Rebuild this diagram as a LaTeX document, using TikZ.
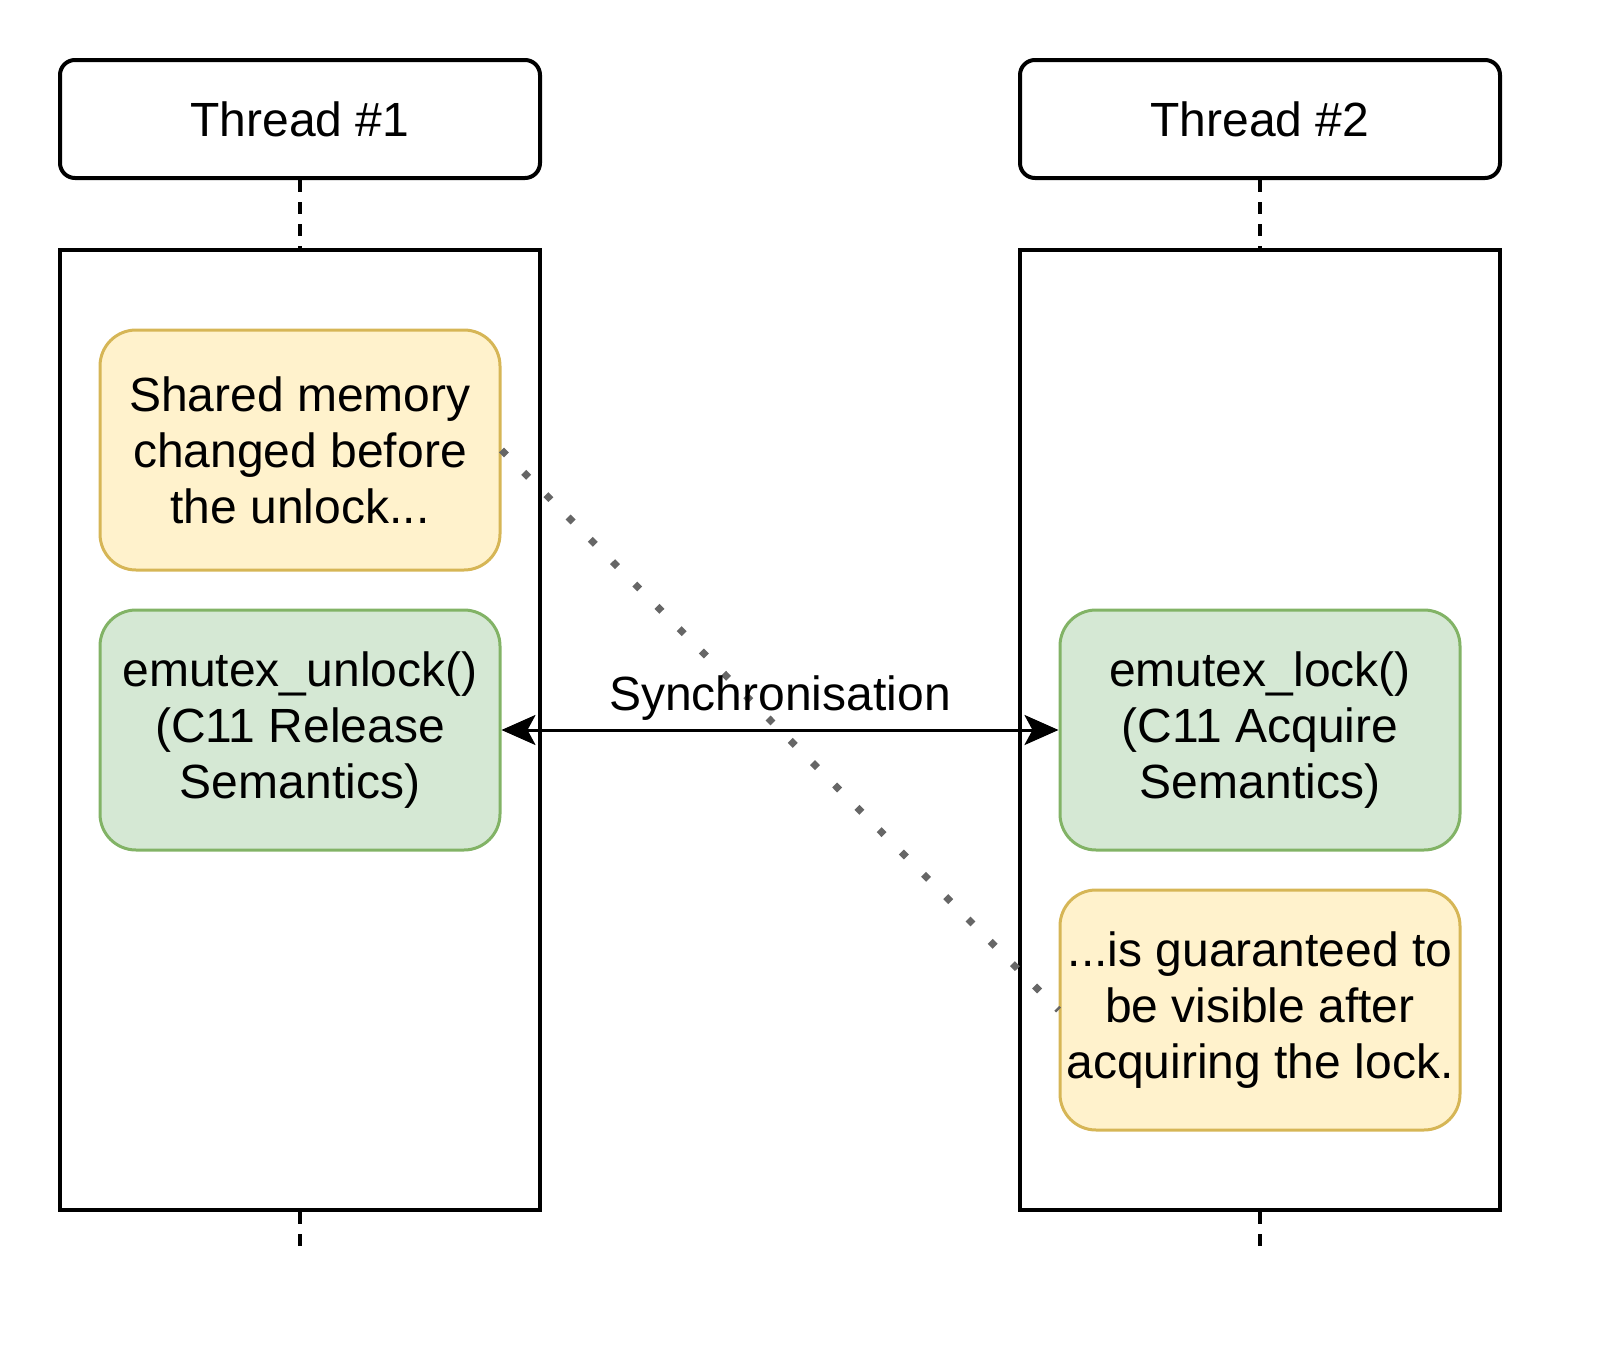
\documentclass[tikz,border=0pt]{standalone}
\usepackage{fontspec}
\setmainfont{Liberation Sans}
\usetikzlibrary{arrows.meta}
\definecolor{yfill}{HTML}{FFF2CC}
\definecolor{ydraw}{HTML}{D6B656}
\definecolor{gfill}{HTML}{D5E8D4}
\definecolor{gdraw}{HTML}{82B366}
\definecolor{dotgray}{HTML}{666666}
\begin{document}
\begin{tikzpicture}[x=0.5pt,y=-0.5pt,
  txt/.style={font=\fontsize{24}{28}\selectfont, align=center, inner sep=0pt},
  threadbox/.style={txt, draw=black, line width=2pt, rounded corners=7.5pt, minimum width=240pt, minimum height=59pt},
  lifebox/.style={draw=black, line width=2pt, minimum width=240pt, minimum height=480pt, inner sep=0pt},
  yellowbox/.style={txt, draw=ydraw, fill=yfill, line width=1.5pt, rounded corners=18pt, minimum width=200pt, minimum height=120pt},
  greenbox/.style={txt, draw=gdraw, fill=gfill, line width=1.5pt, rounded corners=18pt, minimum width=200pt, minimum height=120pt},
  lifeline/.style={draw=black, line width=2pt, dash pattern=on 6pt off 5pt},
  syncarrow/.style={draw=black, line width=1.5pt, {Stealth[length=17pt,width=15pt,inset=4pt]}-{Stealth[length=17pt,width=15pt,inset=4pt]}},
  dotline/.style={draw=dotgray, line width=3.5pt, dash pattern=on 3.5pt off 12.25pt}
]
\useasboundingbox (0,0) rectangle (1608,1360);

\node[threadbox] (t1) at (300,119) {Thread \#1};
\node[threadbox] (t2) at (1260,119) {Thread \#2};

\node[lifebox] (l1) at (300,730) {};
\node[lifebox] (l2) at (1260,730) {};

\coordinate (e1) at (300,1254);
\coordinate (e2) at (1260,1254);

\draw[lifeline] (t1.south) -- (l1.north);
\draw[lifeline] (t2.south) -- (l2.north);
\draw[lifeline] (l1.south) -- (e1);
\draw[lifeline] (l2.south) -- (e2);

\node[yellowbox] (y1) at (300,450) {Shared memory\\changed before\\the unlock...};
\node[greenbox] (g1) at (300,730) {emutex\_unlock()\\(C11 Release\\Semantics)};
\node[greenbox] (g2) at (1260,730) {emutex\_lock()\\(C11 Acquire\\Semantics)};
\node[yellowbox] (y2) at (1260,1010) {...is guaranteed to\\be visible after\\acquiring the lock.};

\draw[dotline] (y1.east) -- (y2.west);

\draw[syncarrow] (g1.east) -- (g2.west);
\node[txt, anchor=base] (sync) at (780,710) {Synchronisation};
\end{tikzpicture}
\end{document}
